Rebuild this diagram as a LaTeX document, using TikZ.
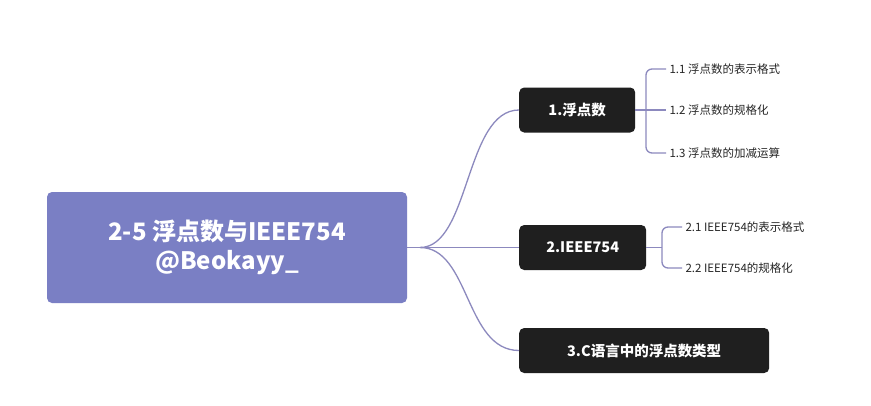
\documentclass[tikz,border=0pt]{standalone}
\usepackage{fontspec}
\setmainfont{Noto Sans CJK SC}
\begin{document}
\begin{tikzpicture}[x=1pt,y=-1pt,
  rootbox/.style={fill=root,rounded corners=5pt,text=white,font=\fontsize{24}{29}\selectfont\bfseries,align=center,minimum width=360pt,minimum height=111pt},
  catbox/.style={fill=black!88,rounded corners=5pt,text=white,font=\fontsize{14.5}{17}\selectfont\bfseries,minimum height=45pt,inner xsep=8pt,anchor=west},
  leaf/.style={font=\fontsize{11.5}{14}\selectfont,anchor=west,text=black!85},
  link/.style={draw=lnk,line width=1.3pt}]
\definecolor{root}{HTML}{7A7FC4}
\definecolor{lnk}{HTML}{8C89BE}
\useasboundingbox (0,0) rectangle (871,405);
\fill[white] (0,0) rectangle (871,405);
\node[rootbox] (r) at (227,247.5) {2-5 浮点数与IEEE754\\@Beokayy\_};
\node[catbox,minimum width=116pt] (c1) at (519,110) {1.浮点数};
\node[catbox,minimum width=127pt] (c2) at (519,247.5) {2.IEEE754};
\node[catbox,minimum width=250pt] (c3) at (519,350.5) {3.C语言中的浮点数类型};
\coordinate (o) at (420,247.5);
\draw[link] (r.east) -- (o);
\draw[link] (o) .. controls (470,247.5) and (465,110) .. (c1.west);
\draw[link] (o) -- (c2.west);
\draw[link] (o) .. controls (470,247.5) and (465,350.5) .. (c3.west);
\node[leaf] (l1) at (666,69) {1.1 浮点数的表示格式};
\node[leaf] (l2) at (666,110) {1.2 浮点数的规格化};
\node[leaf] (l3) at (666,153) {1.3 浮点数的加减运算};
\draw[link] (c1.east) -- (l2.west);
\draw[link,rounded corners=6pt] (l1.west) -- (646,69) -- (646,153) -- (l3.west);
\node[leaf] (m1) at (682,227) {2.1 IEEE754的表示格式};
\node[leaf] (m2) at (682,268) {2.2 IEEE754的规格化};
\draw[link] (c2.east) -- (662,247.5);
\draw[link,rounded corners=6pt] (m1.west) -- (662,227) -- (662,268) -- (m2.west);
\end{tikzpicture}
\end{document}
